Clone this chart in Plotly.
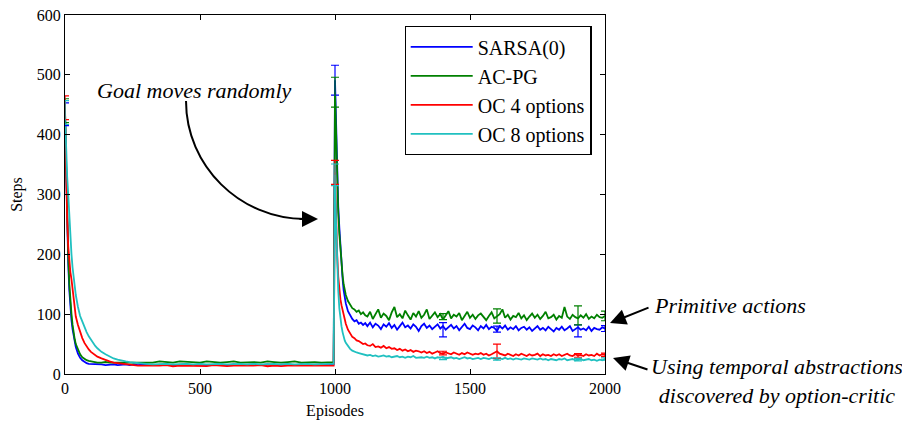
import plotly.graph_objects as go

# Episode positions (denser where curves change fast)
episodes = (list(range(0, 40, 4)) + list(range(40, 120, 8)) + list(range(120, 300, 15))
            + list(range(300, 1000, 25)) + [995]
            + list(range(1000, 1040, 4)) + list(range(1040, 1120, 8)) + list(range(1120, 2001, 10)))

sarsa = [434, 330, 250, 185, 140, 110, 90, 75, 62, 52,
         45, 34, 27, 23, 20, 18, 17, 17, 16, 16,
         16, 16, 15, 16, 16, 15, 16, 16, 15, 16, 15, 16,
         16, 15, 16, 16, 15, 16, 16, 15, 16, 15, 16, 16, 15, 16,
         15, 16, 16, 15, 16, 15, 16, 16, 15, 16, 15, 16, 16, 15,
         16,
         491, 400, 330, 280, 245, 210, 180, 160, 140, 128,
         118, 105, 98, 92, 88, 90, 84, 86, 82, 85,
         80, 86, 78, 84, 81, 75, 83, 79, 85, 77, 82, 74, 80, 86, 78, 81, 76, 83, 79, 72,
         80, 84, 77, 81, 75, 79, 83, 76, 80, 74, 78, 82, 76, 80, 73, 79, 84, 77, 75, 81,
         78, 73, 80, 76, 82, 75, 79, 77, 72, 80, 76, 81, 74, 78, 75, 80, 73, 77, 79, 74,
         78, 72, 76, 80, 74, 77, 73, 79, 75, 71, 77, 74, 79, 73, 76, 80, 72, 75, 78, 74,
         76, 73, 79, 72, 77, 75, 74, 78, 76]

acpg = [440, 340, 260, 196, 150, 120, 100, 82, 68, 58,
        50, 40, 33, 28, 25, 23, 22, 21, 20, 20,
        19, 19, 20, 19, 19, 20, 19, 20, 19, 19, 20, 19,
        20, 19, 21, 20, 19, 21, 20, 20, 19, 21, 20, 19, 20, 21,
        19, 20, 20, 19, 21, 20, 19, 20, 21, 19, 20, 20, 19, 20,
        20,
        471, 390, 320, 270, 235, 205, 180, 165, 150, 140,
        132, 122, 115, 110, 108, 104, 106, 100, 103, 98,
        96, 104, 92, 99, 108, 94, 101, 97, 90, 103, 112, 95, 100, 93, 106, 98, 91, 102, 96, 105,
        94, 99, 108, 92, 97, 103, 95, 100, 91, 98, 105, 93, 99, 96, 102, 90, 97, 104, 94, 99,
        92, 98, 101, 95, 90, 97, 103, 93, 96, 100, 108, 94, 99, 91, 97, 95, 102, 93, 98, 90,
        96, 101, 94, 99, 92, 97, 104, 93, 95, 99, 91, 97, 94, 112, 96, 92, 99, 95, 93, 98,
        94, 100, 92, 96, 93, 99, 95, 94, 97]

oc4 = [445, 330, 260, 213, 185, 170, 158, 140, 125, 110,
       96, 82, 70, 60, 52, 46, 41, 37, 34, 31,
       29, 26, 23, 21, 19, 18, 17, 16, 15, 15, 14, 14,
       14, 13, 14, 15, 13, 14, 14, 13, 14, 13, 15, 14, 13, 14,
       14, 13, 14, 15, 13, 14, 13, 14, 14, 13, 14, 13, 14, 14,
       14,
       337, 260, 200, 163, 140, 125, 115, 106, 98, 90,
       84, 74, 67, 62, 60, 56, 55, 52, 50, 51,
       48, 47, 50, 45, 46, 44, 47, 43, 45, 42, 43, 40, 42, 39, 41, 38, 40, 37, 39, 38,
       36, 38, 35, 37, 34, 36, 38, 35, 34, 36, 35, 33, 36, 34, 32, 35, 33, 36, 34, 32,
       34, 33, 35, 32, 34, 31, 33, 35, 38, 34, 33, 31, 34, 32, 30, 33, 31, 34, 32, 30,
       33, 31, 32, 34, 30, 33, 31, 32, 30, 33, 31, 33, 30, 32, 34, 31, 30, 33, 31, 32,
       30, 33, 31, 32, 30, 34, 31, 33, 32]

oc8 = [437, 360, 330, 300, 260, 225, 200, 178, 160, 145,
       132, 112, 97, 88, 78, 70, 63, 57, 51, 47,
       43, 37, 33, 29, 26, 24, 22, 21, 20, 19, 18, 18,
       17, 16, 17, 17, 16, 17, 17, 16, 17, 16, 17, 17, 16, 17,
       17, 16, 17, 16, 17, 17, 16, 17, 16, 17, 17, 16, 17, 17,
       17,
       333, 250, 185, 140, 110, 92, 80, 70, 62, 56,
       52, 46, 42, 39, 37, 36, 35, 34, 33, 32,
       31, 32, 30, 31, 29, 30, 31, 29, 30, 28, 29, 30, 28, 29, 27, 29, 28, 30, 27, 28,
       28, 27, 29, 27, 28, 26, 28, 27, 29, 26, 27, 28, 26, 27, 25, 27, 28, 26, 27, 25,
       26, 27, 25, 27, 26, 25, 27, 26, 24, 26, 25, 27, 25, 26, 24, 26, 25, 24, 26, 25,
       24, 26, 25, 24, 26, 24, 25, 23, 25, 24, 23, 25, 24, 26, 23, 24, 25, 23, 24, 25,
       23, 24, 25, 23, 24, 22, 24, 23, 25]

# Error bars (sparse)
err_ep = [0, 1000, 1400, 1600, 1900, 2000]
sarsa_err_mean = [434, 491, 74, 75, 72, 76]
sarsa_err = [19, 25, 12, 5, 10, 5]
acpg_err_mean = [440, 471, 96, 97, 98, 97]
acpg_err = [20, 25, 5, 12, 16, 8]
oc4_err_mean = [445, 337, 35, 38, 31, 32]
oc4_err = [20, 20, 3, 12, 3, 3]
oc8_err_mean = [437, 333, 26, 25, 24, 25]
oc8_err = [20, 18, 2, 2, 2, 2]

names = ['SARSA(0)', 'AC-PG', 'OC 4 options', 'OC 8 options']
colors = ['#0000ff', '#008000', '#ff0000', '#20c0c0']

serif = '"Liberation Serif", "Times New Roman", serif'
fig = go.Figure()

series = [sarsa, acpg, oc4, oc8]
err_means = [sarsa_err_mean, acpg_err_mean, oc4_err_mean, oc8_err_mean]
errs = [sarsa_err, acpg_err, oc4_err, oc8_err]

for name, col, ys in zip(names, colors, series):
    fig.add_trace(go.Scatter(x=episodes, y=ys, mode='lines', name=name,
                             line=dict(color=col, width=1.8)))

for col, ym, ye in zip(colors, err_means, errs):
    fig.add_trace(go.Scatter(x=err_ep, y=ym, mode='markers', showlegend=False,
                             marker=dict(color=col, opacity=0, size=2),
                             error_y=dict(type='data', array=ye, color=col, thickness=1.2, width=4),
                             hoverinfo='skip'))

# Curved arrow "Goal moves randomly"
fig.add_shape(type='path', xref='paper', yref='paper', opacity=1,
              path='M 0.2241,0.7604 C 0.2241,0.5794 0.3241,0.4318 0.4444,0.4318',
              line=dict(color='black', width=2), fillcolor='rgba(0,0,0,0)')
fig.add_annotation(x=0.4685, y=0.4318, xref='paper', yref='paper', text='',
                   showarrow=True, ax=-20, ay=0, arrowhead=2, arrowsize=1.6,
                   arrowwidth=2, arrowcolor='black')
fig.add_annotation(x=0.2407, y=0.791, xref='paper', yref='paper', xanchor='center', yanchor='middle',
                   text='<i>Goal moves randomly</i>', showarrow=False,
                   font=dict(family=serif, size=22, color='black'))

# Right side labels
fig.add_annotation(x=1.0093, y=0.142, xref='paper', yref='paper', text='',
                   showarrow=True, ax=40, ay=-16, arrowhead=2, arrowsize=1.6,
                   arrowwidth=2, arrowcolor='black')
fig.add_annotation(x=1.087, y=0.192, xref='paper', yref='paper', xanchor='left', yanchor='middle',
                   text='<i>Primitive actions</i>', showarrow=False,
                   font=dict(family=serif, size=22, color='black'))
fig.add_annotation(x=1.0148, y=0.0446, xref='paper', yref='paper', text='',
                   showarrow=True, ax=36, ay=12, arrowhead=2, arrowsize=1.6,
                   arrowwidth=2, arrowcolor='black')
fig.add_annotation(x=1.3194, y=-0.0195, xref='paper', yref='paper', align='center',
                   xanchor='center', yanchor='middle',
                   text='<i>Using temporal abstractions<br>discovered by option-critic</i>',
                   showarrow=False, font=dict(family=serif, size=22, color='black'))

axis_style = dict(showline=True, linewidth=1.2, linecolor='black', mirror='allticks',
                  ticks='inside', ticklen=5, tickcolor='black', showgrid=False,
                  zeroline=False, automargin=False, ticklabeloverflow='allow',
                  tickfont=dict(family=serif, size=16, color='black'))

fig.update_xaxes(range=[0, 2000], tickvals=[0, 500, 1000, 1500, 2000],
                 title=dict(text='Episodes', font=dict(family=serif, size=16, color='black'), standoff=8),
                 **axis_style)
fig.update_yaxes(range=[0, 600], tickvals=[0, 100, 200, 300, 400, 500, 600],
                 title=dict(text='Steps', font=dict(family=serif, size=16, color='black'), standoff=10),
                 **axis_style)

# the page body adds an 8px offset, so the figure is sized 8px smaller
fig.update_layout(
    width=902, height=413,
    template='simple_white',
    font=dict(family=serif, color='black'),
    plot_bgcolor='white', paper_bgcolor='white',
    margin=dict(l=57, r=305, t=7, b=47),
    showlegend=True,
    legend=dict(x=0.975, y=0.969, xanchor='right', yanchor='top',
                bgcolor='white', bordercolor='black', borderwidth=1.2,
                font=dict(family=serif, size=20, color='black'), itemwidth=62),
)

fig.write_html("out.html")
